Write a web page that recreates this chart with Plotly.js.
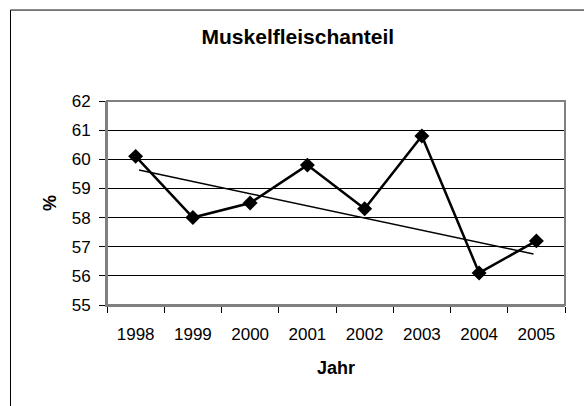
<!DOCTYPE html>
<html>
<head>
<meta charset="utf-8">
<script src="https://cdn.plot.ly/plotly-3.0.1.min.js"></script>
<style>
  html, body { margin: 0; padding: 0; background: #fff; }
  #chart { width: 584px; height: 406px; }
</style>
</head>
<body>
<div id="chart"></div>
<script>
// Data
const years = ['1998', '1999', '2000', '2001', '2002', '2003', '2004', '2005'];
const muskelfleisch = [60.1, 58.0, 58.5, 59.8, 58.3, 60.8, 56.1, 57.2];
// Linear trend line as drawn in the reference (start / end, category index and value)
const trendX = [0.06, 6.95];
const trendY = [59.63, 56.75];

const idx = years.map((_, i) => i);
const boundaries = years.map((_, i) => i - 0.5).concat([years.length - 0.5]);

const FONT = '"Liberation Sans", Arial, Helvetica, sans-serif';

const traces = [
  {
    x: trendX, y: trendY, type: 'scatter', mode: 'lines',
    line: { color: '#000', width: 1.5 }, hoverinfo: 'skip', showlegend: false
  },
  {
    x: idx, y: muskelfleisch, type: 'scatter', mode: 'lines+markers',
    line: { color: '#000', width: 2.5 },
    marker: { symbol: 'diamond', size: 11.5, color: '#000' },
    showlegend: false
  }
];

const layout = {
  width: 584, height: 406,
  margin: { l: 107, r: 19, t: 101, b: 101 },
  paper_bgcolor: '#fff', plot_bgcolor: '#fff',
  font: { family: FONT, color: '#000', size: 17 },
  title: {
    text: '<b>Muskelfleischanteil</b>',
    font: { family: FONT, size: 21, color: '#000' },
    xref: 'container', yref: 'container',
    x: 0.51, y: 1 - 37 / 406, xanchor: 'center', yanchor: 'middle'
  },
  xaxis: {
    range: [-0.5, years.length - 0.5],
    tickmode: 'array', tickvals: idx, ticktext: years,
    ticks: '', showgrid: false, zeroline: false,
    showline: true, linecolor: '#808080', linewidth: 2,
    tickfont: { family: FONT, size: 17, color: '#000' },
    ticklabelstandoff: 13,
    minor: { tickmode: 'array', tickvals: boundaries, ticks: 'outside', ticklen: 6, tickcolor: '#000', tickwidth: 1, showgrid: false },
    title: { text: '<b>Jahr</b>', font: { family: FONT, size: 18, color: '#000' }, standoff: 18 },
    fixedrange: true
  },
  yaxis: {
    range: [55, 62], tick0: 55, dtick: 1,
    ticks: 'outside', ticklen: 6, tickcolor: '#000', tickwidth: 1,
    showgrid: true, gridcolor: '#000', gridwidth: 1,
    zeroline: false,
    showline: true, linecolor: '#808080', linewidth: 2,
    tickfont: { family: FONT, size: 17, color: '#000' },
    ticklabelstandoff: 5,
    title: { text: '<b>%</b>', font: { family: FONT, size: 18, color: '#000' }, standoff: 10 },
    fixedrange: true
  },
  shapes: [
    { type: 'rect', xref: 'paper', yref: 'paper', x0: 0, x1: 1, y0: 0, y1: 1,
      line: { color: '#808080', width: 2 }, layer: 'above' },
    { type: 'rect', xref: 'paper', yref: 'paper', x0: -0.2107, x1: 1.2, y0: -0.6, y1: 1.4458,
      line: { color: '#000', width: 1 }, layer: 'above' }
  ]
};

Plotly.newPlot('chart', traces, layout, { displayModeBar: false, staticPlot: true });
</script>
</body>
</html>
